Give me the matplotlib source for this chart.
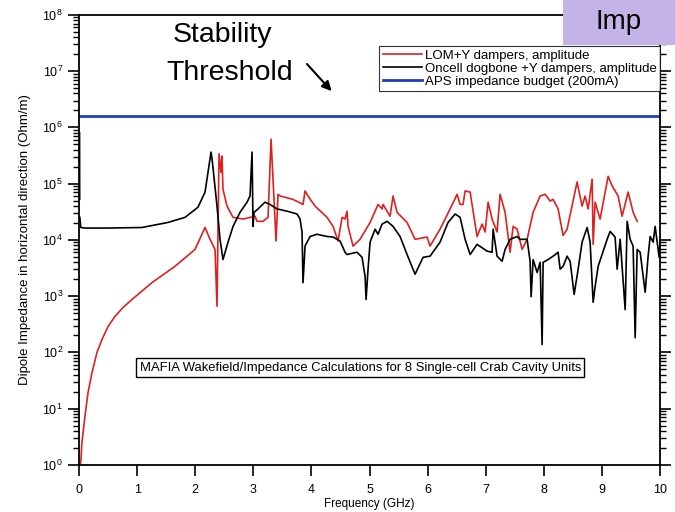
import numpy as np
import matplotlib
matplotlib.use("Agg")
import matplotlib.pyplot as plt
from matplotlib.patches import Rectangle

plt.rcParams['font.family'] = ['Liberation Sans', 'DejaVu Sans']
plt.rcParams['mathtext.default'] = 'regular'

# LOM + Y dampers (red): frequency in GHz, log10 of impedance in Ohm/m
red_f = [0.025, 0.034, 0.05, 0.103, 0.155, 0.224, 0.31, 0.396, 0.50, 0.620, 0.76, 0.912,
         1.256, 1.652, 1.997,
         2.169, 2.255, 2.341, 2.375, 2.410, 2.444, 2.461, 2.478, 2.547, 2.651, 2.823,
         3.029, 3.064, 3.167, 3.253, 3.305, 3.391, 3.425, 3.460, 3.683, 3.855, 3.890,
         3.941, 4.062, 4.269, 4.372, 4.458, 4.527, 4.578, 4.613, 4.630, 4.716, 4.836,
         5.009, 5.146, 5.215, 5.232, 5.301, 5.353, 5.404, 5.473, 5.645, 5.783, 5.990,
         6.041, 6.213, 6.386, 6.506, 6.558, 6.609, 6.644, 6.730, 6.850, 6.936, 6.988,
         7.040, 7.108, 7.194, 7.246, 7.332, 7.418, 7.470, 7.539, 7.625, 7.711, 7.814,
         7.935, 8.021, 8.107, 8.158, 8.244, 8.330, 8.399, 8.571, 8.657, 8.709, 8.761,
         8.830, 8.847, 8.881, 8.967, 9.105, 9.174, 9.277, 9.346, 9.449, 9.535, 9.604]
red_log = [0.0, 0.09, 0.39, 0.86, 1.28, 1.64, 2.0, 2.23, 2.46, 2.64, 2.80, 2.94,
           3.24, 3.53, 3.83,
           4.22, 4.01, 3.83, 2.82, 5.53, 5.20, 5.49, 4.90, 4.60, 4.40, 4.37,
           4.42, 4.33, 4.33, 4.40, 5.79, 3.98, 4.81, 4.78, 4.72, 4.63, 4.87,
           4.78, 4.60, 4.40, 4.24, 3.98, 4.40, 4.37, 4.51, 4.24, 3.89, 4.01,
           4.31, 4.63, 4.55, 4.63, 4.51, 4.42, 4.78, 4.49, 4.31, 4.01, 4.05,
           3.89, 4.19, 4.55, 4.81, 4.63, 4.63, 4.87, 4.85, 4.06, 4.28, 4.14,
           4.67, 4.37, 4.14, 4.81, 4.49, 3.78, 4.24, 4.19, 3.83, 4.01, 4.49,
           4.78, 4.81, 4.69, 4.72, 4.55, 4.08, 4.19, 5.03, 4.60, 4.78, 4.55,
           5.08, 3.92, 4.67, 4.37, 5.13, 4.96, 4.78, 4.42, 4.85, 4.49, 4.33]

# Oncell dogbone + Y dampers (black)
black_f = [0.010, 0.012, np.nan, 0.015, 0.030, 0.100, 0.500, 1.084, 1.532, 1.824, 2.048,
           2.169, 2.220, 2.272, 2.290, 2.375, 2.427, 2.478, 2.565, 2.651, 2.771, 2.892,
           2.943, 2.978, 2.995, 3.012, 3.081, 3.201, 3.287, 3.408, 3.580, 3.752, 3.804,
           3.838, 3.855, 3.890, 3.976, 4.096, 4.269, 4.372, 4.492, 4.578, 4.613, 4.785,
           4.871, 4.923, 4.940, 4.974, 5.009, 5.095, 5.146, 5.215, 5.301, 5.404, 5.525,
           5.645, 5.783, 5.921, 6.041, 6.213, 6.351, 6.472, 6.558, 6.644, 6.730, 6.850,
           7.022, 7.108, 7.126, 7.194, 7.281, 7.332, 7.418, 7.539, 7.590, 7.711, 7.762,
           7.780, 7.814, 7.883, 7.935, 7.969, 7.986, 8.072, 8.158, 8.244, 8.279, 8.330,
           8.399, 8.451, 8.520, 8.589, 8.657, 8.744, 8.795, 8.847, 8.881, 8.933, 9.088,
           9.139, 9.225, 9.260, 9.312, 9.398, 9.432, 9.484, 9.535, 9.570, 9.604, 9.656,
           9.742, 9.793, 9.828, 9.880, 9.914, 9.983, 10.0]
black_log = [5.90, 4.72, np.nan, 4.40, 4.22, 4.21, 4.21, 4.22, 4.31, 4.40, 4.58,
             4.85, 5.20, 5.56, 5.44, 4.60, 4.01, 3.65, 3.96, 4.24, 4.49, 4.67,
             4.78, 5.56, 4.24, 4.49, 4.55, 4.67, 4.63, 4.55, 4.51, 4.46, 4.37,
             4.14, 3.24, 3.89, 4.06, 4.10, 4.06, 4.05, 3.98, 3.78, 3.74, 3.78,
             3.69, 3.35, 2.94, 3.48, 3.96, 4.19, 4.10, 4.28, 4.33, 4.24, 4.06,
             3.74, 3.39, 3.69, 3.71, 3.96, 4.31, 4.46, 4.40, 4.01, 3.74, 3.92,
             3.80, 3.78, 4.19, 3.71, 3.62, 3.83, 4.01, 4.06, 4.01, 4.01, 3.62,
             2.99, 3.65, 3.42, 3.60, 2.14, 3.60, 3.65, 3.71, 3.78, 3.48, 3.53,
             3.71, 3.62, 3.03, 3.48, 3.96, 4.22, 3.96, 2.89, 3.17, 3.53, 4.01,
             4.15, 4.05, 3.48, 4.01, 2.76, 4.33, 4.01, 3.89, 2.26, 3.83, 3.78,
             3.07, 3.71, 4.06, 3.96, 4.24, 3.69, 4.01]

aps_budget = 1.6e6

fig = plt.figure(figsize=(6.75, 5.12), dpi=100)
ax = fig.add_axes([0.117, 0.092, 0.861, 0.879])

ax.plot(red_f, 10 ** np.array(red_log), color='#e02020', lw=1.2,
        label='LOM+Y dampers, amplitude')
ax.plot(black_f, 10 ** np.array(black_log), color='black', lw=1.2,
        label='Oncell dogbone +Y dampers, amplitude')
ax.axhline(aps_budget, color='#1f3fbf', lw=2, label='APS impedance budget (200mA)')

ax.set_yscale('log')
ax.set_xlim(0, 10)
ax.set_ylim(1, 1e8)
ax.set_xticks(range(11))
ax.set_xlabel('Frequency (GHz)', fontsize=8.5, labelpad=1)
ax.set_ylabel('Dipole Impedance in horizontal direction (Ohm/m)', fontsize=9.5, labelpad=8)

ax.tick_params(axis='both', which='major', direction='out', labelsize=9, length=8, width=1.2)
ax.tick_params(axis='x', which='major', pad=6)
ax.tick_params(axis='y', which='minor', direction='out', length=4, width=1)
ax.tick_params(axis='y', which='both', right=True)
ax.yaxis.set_minor_locator(matplotlib.ticker.LogLocator(base=10, subs=np.arange(2, 10), numticks=20))
for s in ax.spines.values():
    s.set_linewidth(1.3)

leg = ax.legend(loc='upper right', bbox_to_anchor=(1.0, 0.93), borderaxespad=0,
                fontsize=9.5, frameon=True, fancybox=False, handlelength=3.0,
                labelspacing=0.05, borderpad=0.25, handletextpad=0.2)
leg.get_frame().set_edgecolor('black')
leg.get_frame().set_linewidth(0.8)

ax.text(0.484, 0.216, 'MAFIA Wakefield/Impedance Calculations for 8 Single-cell Crab Cavity Units',
        transform=ax.transAxes, ha='center', va='center', fontsize=9.4,
        bbox=dict(boxstyle='square,pad=0.25', fc='white', ec='black', lw=1))

# annotation text
fig.text(0.329, 0.931, 'Stability', fontsize=20.5, ha='center', va='center')
fig.text(0.341, 0.857, 'Threshold', fontsize=20.5, ha='center', va='center')
ax.annotate('', xy=(0.494, 0.818), xytext=(0.452, 0.879), xycoords='figure fraction',
            arrowprops=dict(arrowstyle='-|>', color='black', lw=1.5, mutation_scale=14))

# slide header box
fig.patches.append(Rectangle((0.834, 0.912), 0.17, 0.09, transform=fig.transFigure,
                             facecolor='#c3b3e6', edgecolor='none', zorder=5))
fig.text(0.882, 0.958, 'Imp', fontsize=20, ha='left', va='center', zorder=6)

fig.savefig('out.png', dpi=100)
